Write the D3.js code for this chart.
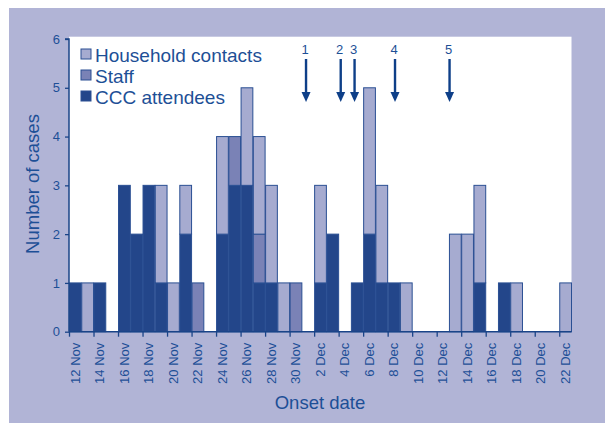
<!DOCTYPE html>
<html><head><meta charset="utf-8">
<script src="https://cdn.jsdelivr.net/npm/d3@7/dist/d3.min.js"></script>
<style>html,body{margin:0;padding:0;background:#fff;}svg{display:block;}</style>
</head><body>
<svg id="c" width="605" height="423"></svg>
<script>
const dates = ["12 Nov","13 Nov","14 Nov","15 Nov","16 Nov","17 Nov","18 Nov","19 Nov","20 Nov","21 Nov","22 Nov","23 Nov","24 Nov","25 Nov","26 Nov","27 Nov","28 Nov","29 Nov","30 Nov","1 Dec","2 Dec","3 Dec","4 Dec","5 Dec","6 Dec","7 Dec","8 Dec","9 Dec","10 Dec","11 Dec","12 Dec","13 Dec","14 Dec","15 Dec","16 Dec","17 Dec","18 Dec","19 Dec","20 Dec","21 Dec","22 Dec"];
const ccc       = [1,0,1,0,3,2,3,1,0,2,0,0,2,3,3,1,1,0,0,0,1,2,0,1,2,1,1,0,0,0,0,0,0,1,0,1,0,0,0,0,0];
const staff     = [0,0,0,0,0,0,0,0,0,0,1,0,0,1,0,1,0,0,1,0,0,0,0,0,0,0,0,0,0,0,0,0,0,0,0,0,0,0,0,0,0];
const household = [0,1,0,0,0,0,0,2,1,1,0,0,2,0,2,2,2,1,0,0,2,0,0,0,3,2,0,1,0,0,0,2,2,2,0,0,1,0,0,0,1];
const tickLabels = ["12 Nov","14 Nov","16 Nov","18 Nov","20 Nov","22 Nov","24 Nov","26 Nov","28 Nov","30 Nov","2 Dec","4 Dec","6 Dec","8 Dec","10 Dec","12 Dec","14 Dec","16 Dec","18 Dec","20 Dec","22 Dec"];
const yTicks = [0,1,2,3,4,5,6];
const arrowLabels = ["1","2","3","4","5"];
const arrowDays = [19.34, 22.17, 23.3, 26.6, 31.05];
const seriesNames = ["Household contacts","Staff","CCC attendees"];

const textCol = "#1d4f96";
const lineCol = "#1a4488";
const colors = {ccc:"#23468a", staff:"#7a82b6", household:"#a6abd0"};

const svg = d3.select("#c");
const font = "'Liberation Sans', Arial, sans-serif";

svg.append("rect").attr("x",9).attr("y",8).attr("width",596).attr("height",415).attr("fill","#b1b4d6");

const x0 = 69, x1 = 571.5, yTop = 39, yBot = 331.7;
const x = d3.scaleLinear().domain([0, dates.length]).range([x0, x1]);
const y = d3.scaleLinear().domain([0, 6]).range([yBot, yTop]);

svg.append("rect").attr("x",x0).attr("y",36.7).attr("width",x1-x0).attr("height",yBot-36.7).attr("fill","#fff");

const rows = dates.map((d,i)=>({date:d, i, ccc:ccc[i], staff:staff[i], household:household[i]}));
const stack = d3.stack().keys(["ccc","staff","household"])(rows);
const g = svg.append("g");
stack.forEach(layer=>{
  g.selectAll(null).data(layer.filter(d=>d[1]>d[0])).enter().append("rect")
    .attr("x", d=>x(d.data.i)+0.5)
    .attr("width", d=>x(d.data.i+1)-x(d.data.i)-0.5)
    .attr("y", d=>y(d[1]))
    .attr("height", d=>y(d[0])-y(d[1]))
    .attr("fill", colors[layer.key])
    .attr("stroke", "#2a4f93").attr("stroke-width",1);
});

// y axis
const ya = svg.append("g").attr("transform",`translate(${x0},0)`)
  .call(d3.axisLeft(y).tickValues(yTicks).tickSize(4).tickPadding(5).tickFormat(d3.format("d")));
ya.select(".domain").attr("stroke",lineCol).attr("stroke-width",1.5).attr("d",`M-4,${y(6)}H0V${yBot}`);
ya.selectAll(".tick line").attr("stroke",lineCol).attr("stroke-width",1.3);
ya.selectAll("text").attr("fill",textCol).attr("font-family",font).attr("font-size",13);

// x axis
const tickIdx = tickLabels.map(t=>dates.indexOf(t));
const xa = svg.append("g").attr("transform",`translate(0,${yBot})`)
  .call(d3.axisBottom(x).tickValues(tickIdx).tickSize(5).tickFormat(""));
xa.select(".domain").attr("stroke",lineCol).attr("stroke-width",1.5).attr("d",`M${x0},0H${x1}`);
xa.selectAll(".tick line").attr("stroke",lineCol).attr("stroke-width",1.3);
svg.append("g").selectAll("text").data(tickIdx).enter().append("text")
  .attr("transform", d=>`translate(${x(d+0.5)+4.5},${yBot+11}) rotate(-90)`)
  .attr("text-anchor","end")
  .attr("fill",textCol).attr("font-family",font).attr("font-size",13)
  .text((d,i)=>tickLabels[i]);

// axis titles
svg.append("text").attr("transform",`translate(39,184) rotate(-90)`).attr("text-anchor","middle")
  .attr("fill",textCol).attr("font-family",font).attr("font-size",18.5).text("Number of cases");
svg.append("text").attr("x",320).attr("y",409).attr("text-anchor","middle")
  .attr("fill",textCol).attr("font-family",font).attr("font-size",18.5).text("Onset date");

// legend
const legCols = [colors.household, colors.staff, colors.ccc];
seriesNames.forEach((n,i)=>{
  const ly = 55 + i*21;
  svg.append("rect").attr("x",81).attr("y",ly-6).attr("width",10).attr("height",10)
    .attr("fill",legCols[i]).attr("stroke","#2a4f93").attr("stroke-width",1);
  svg.append("text").attr("x",95).attr("y",ly+6.5).attr("fill",textCol)
    .attr("font-family",font).attr("font-size",19).text(n);
});

// arrows
arrowDays.forEach((d,i)=>{
  const ax = x(d);
  svg.append("text").attr("x",ax-1).attr("y",54).attr("text-anchor","middle")
    .attr("fill",textCol).attr("font-family",font).attr("font-size",13).text(arrowLabels[i]);
  svg.append("line").attr("x1",ax).attr("x2",ax).attr("y1",59).attr("y2",94)
    .attr("stroke","#0e3f88").attr("stroke-width",2.4);
  svg.append("path").attr("d",`M${ax-4.5},${92}L${ax+4.5},${92}L${ax},${102}Z`).attr("fill","#0e3f88");
});
</script>
</body></html>
